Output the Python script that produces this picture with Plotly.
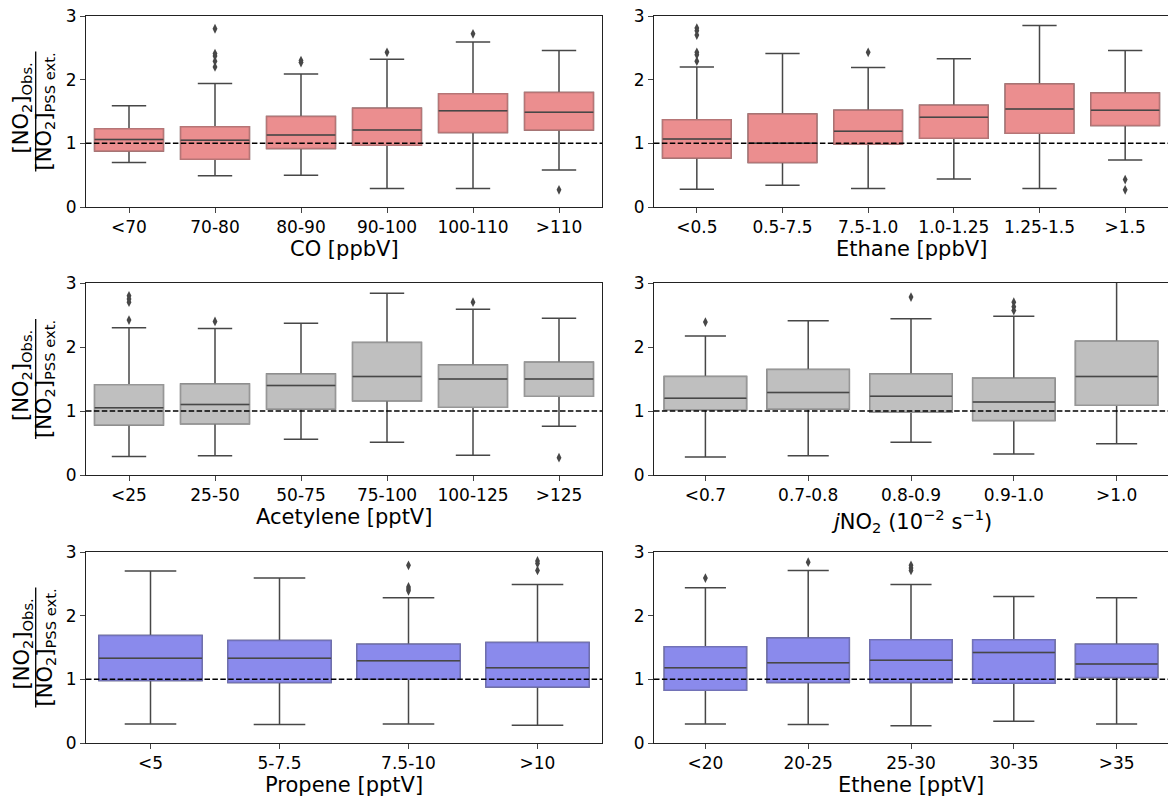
import plotly.graph_objects as go

# ---------------- data ----------------
co_cats = ["<70", "70-80", "80-90", "90-100", "100-110", ">110"]
co_lo = [0.70, 0.49, 0.50, 0.29, 0.29, 0.58]
co_q1 = [0.88, 0.75, 0.92, 0.97, 1.17, 1.21]
co_med = [1.06, 1.05, 1.13, 1.21, 1.51, 1.49]
co_q3 = [1.23, 1.26, 1.42, 1.55, 1.78, 1.80]
co_hi = [1.59, 1.94, 2.09, 2.32, 2.59, 2.46]
co_out_x = ["70-80", "70-80", "70-80", "70-80", "70-80", "80-90", "80-90", "90-100", "100-110", ">110"]
co_out_y = [2.80, 2.41, 2.37, 2.29, 2.20, 2.30, 2.27, 2.43, 2.72, 0.27]

eth_cats = ["<0.5", "0.5-7.5", "7.5-1.0", "1.0-1.25", "1.25-1.5", ">1.5"]
eth_lo = [0.28, 0.34, 0.29, 0.44, 0.29, 0.74]
eth_q1 = [0.77, 0.70, 0.99, 1.08, 1.16, 1.28]
eth_med = [1.07, 1.00, 1.19, 1.41, 1.54, 1.52]
eth_q3 = [1.37, 1.46, 1.52, 1.60, 1.93, 1.79]
eth_hi = [2.20, 2.41, 2.19, 2.33, 2.85, 2.46]
eth_out_x = ["<0.5", "<0.5", "<0.5", "<0.5", "<0.5", "<0.5", "7.5-1.0", ">1.5", ">1.5"]
eth_out_y = [2.81, 2.77, 2.70, 2.43, 2.39, 2.29, 2.43, 0.43, 0.27]

ace_cats = ["<25", "25-50", "50-75", "75-100", "100-125", ">125"]
ace_lo = [0.29, 0.30, 0.56, 0.51, 0.31, 0.76]
ace_q1 = [0.78, 0.80, 1.03, 1.16, 1.06, 1.23]
ace_med = [1.05, 1.10, 1.40, 1.54, 1.50, 1.50]
ace_q3 = [1.41, 1.42, 1.58, 2.07, 1.72, 1.76]
ace_hi = [2.30, 2.29, 2.37, 2.84, 2.59, 2.45]
ace_out_x = ["<25", "<25", "<25", "<25", "25-50", "100-125", ">125"]
ace_out_y = [2.80, 2.75, 2.70, 2.42, 2.40, 2.70, 0.27]

jno2_cats = ["<0.7", "0.7-0.8", "0.8-0.9", "0.9-1.0", ">1.0"]
jno2_lo = [0.28, 0.30, 0.51, 0.33, 0.49]
jno2_q1 = [1.02, 1.03, 0.98, 0.85, 1.09]
jno2_med = [1.20, 1.29, 1.23, 1.14, 1.54]
jno2_q3 = [1.54, 1.65, 1.58, 1.51, 2.09]
jno2_hi = [2.17, 2.41, 2.44, 2.48, 3.30]
jno2_out_x = ["<0.7", "0.8-0.9", "0.9-1.0", "0.9-1.0", "0.9-1.0"]
jno2_out_y = [2.39, 2.78, 2.70, 2.63, 2.57]

prop_cats = ["<5", "5-7.5", "7.5-10", ">10"]
prop_lo = [0.30, 0.29, 0.30, 0.28]
prop_q1 = [0.98, 0.95, 1.00, 0.88]
prop_med = [1.33, 1.33, 1.29, 1.18]
prop_q3 = [1.69, 1.61, 1.55, 1.58]
prop_hi = [2.70, 2.59, 2.28, 2.49]
prop_out_x = ["7.5-10", "7.5-10", "7.5-10", "7.5-10", ">10", ">10", ">10"]
prop_out_y = [2.79, 2.45, 2.42, 2.39, 2.86, 2.82, 2.71]

ethe_cats = ["<20", "20-25", "25-30", "30-35", ">35"]
ethe_lo = [0.30, 0.29, 0.27, 0.34, 0.30]
ethe_q1 = [0.83, 0.95, 0.95, 0.94, 1.03]
ethe_med = [1.18, 1.26, 1.30, 1.42, 1.24]
ethe_q3 = [1.51, 1.65, 1.62, 1.62, 1.55]
ethe_hi = [2.44, 2.71, 2.49, 2.30, 2.28]
ethe_out_x = ["<20", "20-25", "25-30", "25-30", "25-30"]
ethe_out_y = [2.59, 2.84, 2.79, 2.75, 2.71]

x_titles = [
    "CO [ppbV]",
    "Ethane [ppbV]",
    "Acetylene [pptV]",
    "<i>j</i>NO<sub>2</sub> (10<sup>\u22122</sup> s<sup>\u22121</sup>)",
    "Propene [pptV]",
    "Ethene [pptV]",
]
x_title_shift = [-42, -42, -42, -46, -42, -42]
y_num = "[NO<sub>2</sub>]<sub>Obs.</sub>"
y_den = "[NO<sub>2</sub>]<sub>PSS ext.</sub>"
y_ticks = [0, 1, 2, 3]

RED = "#EB8E8F"
GREY = "#BFBFBF"
BLUE = "#8A8AEC"

panels = [
    (co_cats, co_lo, co_q1, co_med, co_q3, co_hi, co_out_x, co_out_y, RED),
    (eth_cats, eth_lo, eth_q1, eth_med, eth_q3, eth_hi, eth_out_x, eth_out_y, RED),
    (ace_cats, ace_lo, ace_q1, ace_med, ace_q3, ace_hi, ace_out_x, ace_out_y, GREY),
    (jno2_cats, jno2_lo, jno2_q1, jno2_med, jno2_q3, jno2_hi, jno2_out_x, jno2_out_y, GREY),
    (prop_cats, prop_lo, prop_q1, prop_med, prop_q3, prop_hi, prop_out_x, prop_out_y, BLUE),
    (ethe_cats, ethe_lo, ethe_q1, ethe_med, ethe_q3, ethe_hi, ethe_out_x, ethe_out_y, BLUE),
]

# ---------------- layout geometry ----------------
W, H = 1168, 805
ML, MR, MT, MB = 86, 0, 16, 62
PW = W - ML - MR
PH = H - MT - MB
col_px = [(86, 602), (654, 1168)]
row_px = [(16, 207), (283, 475), (552, 743)]

DARK = "#474747"
FONT = "DejaVu Sans"


def blend(c1, c2, t):
    a = [int(c1[i:i + 2], 16) for i in (1, 3, 5)]
    b = [int(c2[i:i + 2], 16) for i in (1, 3, 5)]
    return "#" + "".join("%02x" % round(a[k] * (1 - t) + b[k] * t) for k in range(3))


fig = go.Figure()
layout = dict(
    width=W, height=H,
    margin=dict(l=ML, r=MR, t=MT, b=MB, pad=0),
    paper_bgcolor="white", plot_bgcolor="white",
    boxmode="overlay", boxgap=0.2, boxgroupgap=0,
    showlegend=False,
    font=dict(family=FONT, size=17, color="black"),
)
shapes = []
annotations = []

for i, (cats, lo, q1, med, q3, hi, ox, oy, col) in enumerate(panels):
    r, c = divmod(i, 2)
    n = i + 1
    xa = "x" if n == 1 else "x%d" % n
    ya = "y" if n == 1 else "y%d" % n
    x0p, x1p = col_px[c]
    y0p, y1p = row_px[r]
    xdom = [(x0p - ML) / PW, min(1.0, (x1p - ML) / PW)]
    ydom = [(H - MB - y1p) / PH, (H - MB - y0p) / PH]

    outline = blend(col, "#3a3a3a", 0.3)
    # whiskers (dark)
    fig.add_trace(go.Box(
        x=cats, q1=q1, median=med, q3=q3, lowerfence=lo, upperfence=hi,
        xaxis=xa, yaxis=ya, fillcolor=col, line=dict(color=DARK, width=1.5),
        whiskerwidth=0.5, boxpoints=False, hoverinfo="skip"))
    # box body with lighter outline
    fig.add_trace(go.Box(
        x=cats, q1=q1, median=med, q3=q3, lowerfence=q1, upperfence=q3,
        xaxis=xa, yaxis=ya, fillcolor=col, line=dict(color=outline, width=1.5),
        whiskerwidth=0, boxpoints=False, hoverinfo="skip"))
    # median line (dark)
    fig.add_trace(go.Box(
        x=cats, q1=med, median=med, q3=med, lowerfence=med, upperfence=med,
        xaxis=xa, yaxis=ya, fillcolor="rgba(0,0,0,0)", line=dict(color=DARK, width=1.5),
        whiskerwidth=0, boxpoints=False, hoverinfo="skip"))
    # outliers
    fig.add_trace(go.Scatter(
        x=ox, y=oy, mode="markers", xaxis=xa, yaxis=ya,
        marker=dict(symbol="diamond-tall", size=7, color=DARK, line=dict(width=0)),
        hoverinfo="skip"))

    axis_common = dict(showline=True, mirror=True, linecolor="#222222", linewidth=1,
                       ticks="outside", ticklen=5, tickwidth=1, tickcolor="#444444",
                       showgrid=False, zeroline=False,
                       tickfont=dict(family=FONT, size=17, color="black"))
    layout["xaxis" if n == 1 else "xaxis%d" % n] = dict(
        domain=xdom, anchor=ya, type="category", categoryorder="array", categoryarray=cats,
        range=[-0.5, len(cats) - 0.5], **axis_common)
    layout["yaxis" if n == 1 else "yaxis%d" % n] = dict(
        domain=ydom, anchor=xa, range=[0, 3], tickvals=y_ticks, **axis_common)

    shapes.append(dict(type="line", xref="%s domain" % xa, yref=ya, x0=0, x1=1, y0=1, y1=1,
                       line=dict(color="black", width=1.5, dash="5.5px,2.4px"), layer="above"))
    annotations.append(dict(text=x_titles[i], xref="%s domain" % xa, yref="%s domain" % ya,
                            x=0.5, y=0, xanchor="center", yanchor="middle",
                            yshift=x_title_shift[i],
                            showarrow=False, font=dict(family=FONT, size=21, color="black")))

    if c == 0:
        yc = (ydom[0] + ydom[1]) / 2
        annotations.append(dict(text=y_num, xref="paper", yref="paper", x=0, y=yc,
                                xanchor="center", yanchor="middle", xshift=-64, yshift=3,
                                textangle=-90,
                                showarrow=False, font=dict(family=FONT, size=21, color="black")))
        annotations.append(dict(text=y_den, xref="paper", yref="paper", x=0, y=yc,
                                xanchor="center", yanchor="middle", xshift=-41, textangle=-90,
                                showarrow=False, font=dict(family=FONT, size=21, color="black")))
        bar_x = (35.7 - ML) / PW
        half = 60 / PH
        shapes.append(dict(type="line", xref="paper", yref="paper", x0=bar_x, x1=bar_x,
                           y0=yc - half, y1=yc + half, line=dict(color="black", width=1.3)))

layout["shapes"] = shapes
layout["annotations"] = annotations
fig.update_layout(**layout)

fig.write_html("out.html", config={"displayModeBar": False},
               post_script="document.body.style.margin='0';")
